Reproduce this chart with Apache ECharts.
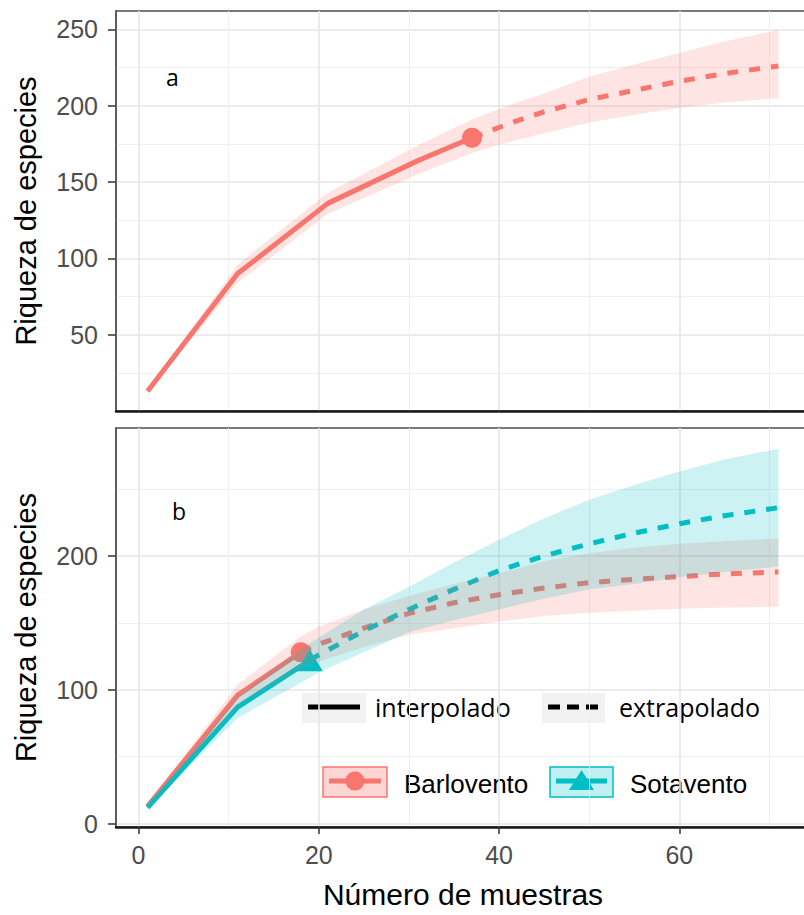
<!DOCTYPE html>
<html>
<head>
<meta charset="utf-8">
<script src="https://cdn.jsdelivr.net/npm/echarts@6/dist/echarts.min.js"></script>
<style>
  html, body { margin: 0; padding: 0; background: #fff; }
  #chart { width: 804px; height: 915px; }
</style>
</head>
<body>
<div id="chart"></div>
<script>
// panel a: one community
const aSamples  = [1, 11, 21, 31, 37, 41, 45, 50, 55, 60, 65, 71];
const aRichness = [13, 90, 136, 164, 179, 188, 196, 204, 210, 216, 221, 226];
const aLower    = [12, 84, 129, 155, 169, 176, 182, 189, 194, 198.5, 202, 205];
const aUpper    = [14, 96, 143, 174, 191, 200, 208, 219, 227, 234.5, 242, 249.5];
const aObserved = 37;

// panel b: Barlovento
const barSamples  = [1, 11, 18, 20, 25, 30, 35, 40, 45, 50, 55, 60, 65, 71];
const barRichness = [13, 96, 128, 134, 146, 157, 165, 171, 176, 180, 182.5, 184.5, 186.5, 188];
const barLower    = [12, 88, 116, 121, 132, 141, 146, 151, 155, 157.5, 159, 160.5, 161.5, 162];
const barUpper    = [14, 104, 140, 147, 160, 170, 179, 187, 196, 202, 206, 209, 211, 213];
const barObserved = 18;

// panel b: Sotavento
const sotSamples  = [1, 11, 19, 20, 25, 30, 35, 40, 45, 50, 55, 60, 65, 71];
const sotRichness = [12, 87, 122, 126, 144, 160, 175, 189, 200, 209, 217, 224, 230, 236];
const sotLower    = [11, 79, 109, 113, 128, 143, 152, 160, 168, 175, 179, 184, 188, 192];
const sotUpper    = [13, 95, 135, 139, 160, 177, 195, 212, 228, 242, 253, 263, 272, 280];
const sotObserved = 19;

// ticks
const xTicks  = [0, 20, 40, 60];
const xMinor  = [10, 30, 50, 70];
const aYTicks = [50, 100, 150, 200, 250];
const aYMinor = [25, 75, 125, 175, 225];
const bYTicks = [0, 100, 200];
const bYMinor = [50, 150, 250];

const RED = '#F8766D';
const CYAN = '#00BFC4';
const FONT = '"Liberation Sans", Arial, sans-serif';

function pairs(xs, ys, keep) {
    return xs.map(function (x, i) { return [x, ys[i]]; }).filter(function (p) { return keep(p[0]); });
}

function ribbon(idx, xs, lo, hi, color) {
    return {
        type: 'custom', xAxisIndex: idx * 2, yAxisIndex: idx * 2, z: 3, silent: true,
        data: [[xs[0], lo[0]]],
        renderItem: function (params, api) {
            const pts = [];
            for (let i = 0; i < xs.length; i++) pts.push(api.coord([xs[i], hi[i]]));
            for (let i = xs.length - 1; i >= 0; i--) pts.push(api.coord([xs[i], lo[i]]));
            return {type: 'polygon', shape: {points: pts}, style: {fill: color, opacity: 0.2}};
        }
    };
}

function curves(idx, xs, ys, obs, color, symbol, size) {
    return [
        {
            type: 'line', xAxisIndex: idx * 2, yAxisIndex: idx * 2, z: 2, silent: true,
            data: pairs(xs, ys, function (x) { return x <= obs; }),
            showSymbol: false, symbol: 'none',
            lineStyle: {color: color, width: 5}
        },
        {
            type: 'line', xAxisIndex: idx * 2, yAxisIndex: idx * 2, z: 2, silent: true,
            data: pairs(xs, ys, function (x) { return x >= obs; }),
            showSymbol: false, symbol: 'none',
            lineStyle: {color: color, width: 5, type: [11, 11]}
        },
        {
            type: 'scatter', xAxisIndex: idx * 2, yAxisIndex: idx * 2, z: 2, silent: true,
            data: pairs(xs, ys, function (x) { return x === obs; }),
            symbol: symbol, symbolSize: size,
            itemStyle: {color: color, opacity: 1}
        }
    ];
}

function mainX(grid, labels) {
    return {
        gridIndex: grid, type: 'value', min: -2.5, max: 74.5, position: 'bottom',
        axisLine: {show: true, onZero: false, lineStyle: {color: '#1a1a1a', width: 2.5}},
        axisTick: {show: labels, customValues: xTicks, length: 7, lineStyle: {color: '#333', width: 1.5}},
        axisLabel: {show: labels, customValues: xTicks, margin: 15, color: '#4d4d4d', fontSize: 25, fontFamily: FONT},
        splitLine: {show: true, lineStyle: {color: '#e6e6e6', width: 1.6}},
        name: labels ? 'Número de muestras' : '',
        nameLocation: 'middle', nameGap: 52,
        nameTextStyle: {color: '#000', fontSize: 30, fontFamily: FONT}
    };
}

function minorX(grid) {
    return {
        gridIndex: grid, type: 'value', min: -2.5, max: 74.5, position: 'top',
        axisLine: {show: false}, axisLabel: {show: false},
        axisTick: {show: false, customValues: xMinor},
        splitLine: {show: true, lineStyle: {color: '#efefef', width: 1}}
    };
}

function mainY(grid, min, max, ticks) {
    return {
        gridIndex: grid, type: 'value', min: min, max: max, position: 'left',
        axisLine: {show: true, onZero: false, lineStyle: {color: '#555', width: 1.5}},
        axisTick: {show: true, customValues: ticks, length: 8, lineStyle: {color: '#333', width: 1.5}},
        axisLabel: {customValues: ticks, margin: 18, color: '#4d4d4d', fontSize: 25, fontFamily: FONT},
        splitLine: {show: true, lineStyle: {color: '#e6e6e6', width: 1.6}},
        name: 'Riqueza de especies', nameLocation: 'middle', nameGap: 76,
        nameTextStyle: {color: '#000', fontSize: 29, fontFamily: FONT}
    };
}

function minorY(grid, min, max, ticks) {
    return {
        gridIndex: grid, type: 'value', min: min, max: max, position: 'right',
        axisLine: {show: false}, axisLabel: {show: false},
        axisTick: {show: false, customValues: ticks},
        splitLine: {show: true, lineStyle: {color: '#efefef', width: 1}}
    };
}

const legend = {
    type: 'group', z: 100, children: [
        {type: 'rect', shape: {x: 300, y: 691, width: 482, height: 115}, style: {fill: '#fff'}},
        {type: 'rect', shape: {x: 302, y: 693, width: 64, height: 30}, style: {fill: '#f2f2f2'}},
        {type: 'line', shape: {x1: 308, y1: 707, x2: 360, y2: 707}, style: {stroke: '#000', lineWidth: 5}},
        {type: 'text', style: {text: 'interpolado', x: 375, y: 707, verticalAlign: 'middle', fill: '#000', font: '25px "Open Sans", sans-serif'}},
        {type: 'rect', shape: {x: 542, y: 693, width: 63, height: 30}, style: {fill: '#f2f2f2'}},
        {type: 'line', shape: {x1: 548, y1: 707, x2: 602, y2: 707}, style: {stroke: '#000', lineWidth: 5, lineDash: [12, 7]}},
        {type: 'text', style: {text: 'extrapolado', x: 619, y: 707, verticalAlign: 'middle', fill: '#000', font: '25px "Open Sans", sans-serif'}},

        {type: 'rect', shape: {x: 323, y: 767, width: 64, height: 30}, style: {fill: 'rgba(248,118,109,0.3)', stroke: RED, lineWidth: 1.5}},
        {type: 'line', shape: {x1: 329, y1: 781, x2: 381, y2: 781}, style: {stroke: RED, lineWidth: 5}},
        {type: 'circle', shape: {cx: 355, cy: 781, r: 9.5}, style: {fill: RED}},
        {type: 'text', style: {text: 'Barlovento', x: 404, y: 784, verticalAlign: 'middle', fill: '#000', font: '26px ' + FONT}},
        {type: 'rect', shape: {x: 550, y: 767, width: 63, height: 30}, style: {fill: 'rgba(0,191,196,0.25)', stroke: CYAN, lineWidth: 1.5}},
        {type: 'line', shape: {x1: 556, y1: 781, x2: 607, y2: 781}, style: {stroke: CYAN, lineWidth: 5}},
        {type: 'polygon', shape: {points: [[581.5, 770], [594, 790], [569, 790]]}, style: {fill: CYAN}},
        {type: 'text', style: {text: 'Sotavento', x: 630, y: 784, verticalAlign: 'middle', fill: '#000', font: '26px ' + FONT}}
    ]
};

const chart = echarts.init(document.getElementById('chart'), null, {renderer: 'svg'});

chart.setOption({
    animation: false,
    backgroundColor: '#fff',
    grid: [
        {left: 116, top: 11, width: 694, height: 400, show: true, borderColor: '#4d4d4d', borderWidth: 1.5, backgroundColor: '#fff', outerBoundsMode: 'none'},
        {left: 116, top: 428, width: 694, height: 399, show: true, borderColor: '#4d4d4d', borderWidth: 1.5, backgroundColor: '#fff', outerBoundsMode: 'none'}
    ],
    xAxis: [mainX(0, false), minorX(0), mainX(1, true), minorX(1)],
    yAxis: [
        mainY(0, 0, 262, aYTicks), minorY(0, 0, 262, aYMinor),
        mainY(1, -2.5, 295.5, bYTicks), minorY(1, -2.5, 295.5, bYMinor)
    ],
    graphic: [
        {type: 'text', z: 100, style: {text: 'a', x: 166, y: 77, verticalAlign: 'middle', fill: '#000', font: '23px "Open Sans", sans-serif'}},
        {type: 'text', z: 100, style: {text: 'b', x: 172, y: 511, verticalAlign: 'middle', fill: '#000', font: '23px "Open Sans", sans-serif'}},
        legend
    ],
    series: [].concat(
        curves(0, aSamples, aRichness, aObserved, RED, 'circle', 20),
        [ribbon(0, aSamples, aLower, aUpper, RED)],
        curves(1, barSamples, barRichness, barObserved, RED, 'circle', 20),
        curves(1, sotSamples, sotRichness, sotObserved, CYAN, 'triangle', [26, 22]),
        [ribbon(1, barSamples, barLower, barUpper, RED),
         ribbon(1, sotSamples, sotLower, sotUpper, CYAN)]
    )
});
</script>
</body>
</html>
